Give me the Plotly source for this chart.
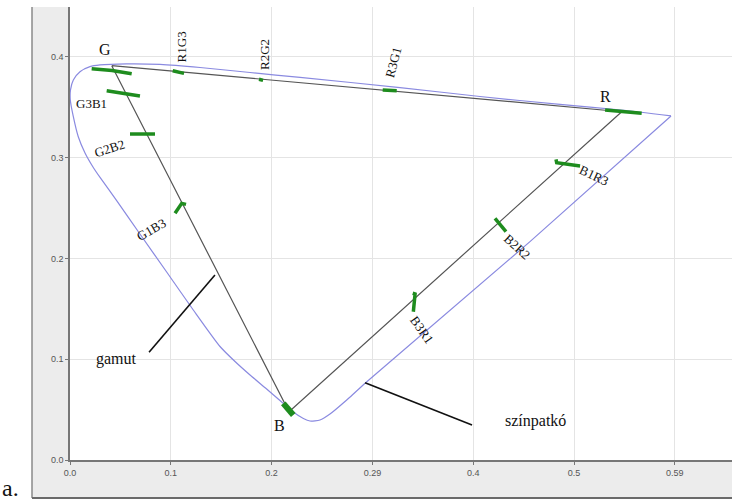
import plotly.graph_objects as go

# Spectral locus outline ("színpatkó") in u'-v' chromaticity coordinates
locus_u = [0.5962, 0.5466, 0.4861, 0.4067, 0.3274, 0.2282, 0.1786, 0.1290, 0.0893,
           0.0562, 0.0298, 0.0198, 0.0099, 0.0033, 0.0005, 0.0003, 0.0033, 0.0082,
           0.0149, 0.0228, 0.0298, 0.0463, 0.0694, 0.0959, 0.1223, 0.1488, 0.1637,
           0.1786, 0.1951, 0.2083, 0.2215, 0.2315, 0.2381, 0.2480, 0.2579, 0.2745,
           0.2927, 0.4563, 0.5962]
locus_v = [0.3413, 0.3472, 0.3527, 0.3606, 0.3695, 0.3795, 0.3844, 0.3894, 0.3924,
           0.3929, 0.3919, 0.3902, 0.3852, 0.3770, 0.3671, 0.3571, 0.3406, 0.3207,
           0.3046, 0.2907, 0.2803, 0.2574, 0.2242, 0.1865, 0.1488, 0.1126, 0.0977,
           0.0843, 0.0704, 0.0590, 0.0476, 0.0412, 0.0387, 0.0397, 0.0456, 0.0595,
           0.0761, 0.2166, 0.3413]

# Display primaries (gamut triangle)
primary_names = ["G", "R", "B"]
gamut_u = [0.0414, 0.5473, 0.2173]
gamut_v = [0.3912, 0.3455, 0.0479]

# Measured primaries and mixtures, each drawn as a short stroke
mix_names = ["G", "G3B1", "G2B2", "G1B3", "R1G3", "R2G2", "R3G1",
             "R", "B1R3", "B2R2", "B3R1", "B"]
mix_u = [[0.0215, 0.0417, 0.0612],
         [0.0364, 0.0694],
         [0.0595, 0.0843],
         [0.1042, 0.1108, 0.1151],
         [0.1019, 0.1131],
         [0.1875, 0.1915],
         [0.3102, 0.3241],
         [0.5308, 0.5671],
         [0.4821, 0.4828, 0.5060],
         [0.4216, 0.4325],
         [0.3400, 0.3423, 0.3406],
         [0.2116, 0.2215]]
mix_v = [[0.3882, 0.3865, 0.3832],
         [0.3664, 0.3611],
         [0.3234, 0.3234],
         [0.2447, 0.2546, 0.2536],
         [0.3862, 0.3836],
         [0.3777, 0.3766],
         [0.3671, 0.3664],
         [0.3472, 0.3439],
         [0.2983, 0.2949, 0.2917],
         [0.2398, 0.2265],
         [0.1654, 0.1647, 0.1471],
         [0.0562, 0.0446]]

# Axis ticks
x_tickvals = [0.0, 0.1, 0.2, 0.3, 0.4, 0.5, 0.6]
x_ticktext = ["0.0", "0.1", "0.2", "0.29", "0.4", "0.5", "0.59"]
y_tickvals = [0.0, 0.1, 0.2, 0.3, 0.4]
y_ticktext = ["0.0", "0.1", "0.2", "0.3", "0.4"]

LOCUS_COLOR = "#8a8ae0"
GAMUT_COLOR = "#555555"
MARK_COLOR = "#1e8c1e"
SERIF = "Liberation Serif, Times New Roman, serif"

fig = go.Figure()

# curved part of the locus is smoothed, the purple line is straight
n_curve = 37
fig.add_trace(go.Scatter(x=locus_u[:n_curve], y=locus_v[:n_curve], mode="lines",
                         line=dict(color=LOCUS_COLOR, width=1.2, shape="spline", smoothing=0.6),
                         hoverinfo="skip", showlegend=False))
fig.add_trace(go.Scatter(x=locus_u[n_curve - 1:], y=locus_v[n_curve - 1:], mode="lines",
                         line=dict(color=LOCUS_COLOR, width=1.2),
                         hoverinfo="skip", showlegend=False))

fig.add_trace(go.Scatter(x=gamut_u + gamut_u[:1], y=gamut_v + gamut_v[:1], mode="lines",
                         line=dict(color=GAMUT_COLOR, width=1.2),
                         hoverinfo="skip", showlegend=False))

for name, us, vs in zip(mix_names, mix_u, mix_v):
    w = 6 if name == "B" else 3.5
    fig.add_trace(go.Scatter(x=us, y=vs, mode="lines", name=name,
                             line=dict(color=MARK_COLOR, width=w),
                             hoverinfo="skip", showlegend=False))

# Pointer lines for the callouts
pointers = {
    "gamut": ([0.1438, 0.0784], [0.1835, 0.1068]),
    "színpatkó": ([0.2927, 0.3988], [0.0767, 0.0347]),
}
for us, vs in pointers.values():
    fig.add_trace(go.Scatter(x=us, y=vs, mode="lines",
                             line=dict(color="#111111", width=1.6),
                             hoverinfo="skip", showlegend=False))

# Text labels: (text, u, v, angle, size)
labels = [
    ("G", 0.0347, 0.4074, 0, 16),
    ("R", 0.5317, 0.3604, 0, 16),
    ("B", 0.2083, 0.0347, 0, 16),
    ("R1G3", 0.1108, 0.4100, -90, 13),
    ("R2G2", 0.1928, 0.4021, -90, 13),
    ("R3G1", 0.3207, 0.3943, -75, 13),
    ("G3B1", 0.0215, 0.3539, 0, 13),
    ("G2B2", 0.0390, 0.3092, -18, 13),
    ("G1B3", 0.0810, 0.2282, -30, 13),
    ("B1R3", 0.5201, 0.2827, 25, 13),
    ("B2R2", 0.4431, 0.2116, 42, 13),
    ("B3R1", 0.3489, 0.1296, 55, 13),
    ("gamut", 0.0466, 0.1002, 0, 16),
    ("színpatkó", 0.4613, 0.0387, 0, 16),
]
annotations = []
for text, u, v, ang, size in labels:
    annotations.append(dict(x=u, y=v, xref="x", yref="y", text=text, showarrow=False,
                            textangle=ang, xanchor="center", yanchor="middle",
                            font=dict(family=SERIF, size=size, color="#111111")))
annotations.append(dict(x=-0.09, y=-0.062, xref="paper", yref="paper", text="a.",
                        showarrow=False, xanchor="center", yanchor="middle",
                        font=dict(family=SERIF, size=24, color="#111111")))

# Grey panel frame around the plotting area
frame_left, frame_bottom = -0.0574, -0.0839
shapes = [
    dict(type="rect", xref="paper", yref="paper", x0=frame_left, x1=1.05,
         y0=frame_bottom, y1=1.0, fillcolor="#ececec", line=dict(width=0), layer="below"),
    dict(type="rect", xref="paper", yref="paper", x0=0, x1=1.05, y0=0, y1=1.0,
         fillcolor="white", line=dict(width=0), layer="below"),
    dict(type="line", xref="paper", yref="paper", x0=frame_left, x1=frame_left,
         y0=frame_bottom, y1=1.0, line=dict(color="#8a8a8a", width=1.5)),
    dict(type="line", xref="paper", yref="paper", x0=frame_left, x1=1.05,
         y0=frame_bottom, y1=frame_bottom, line=dict(color="#6a6a6a", width=2)),
]

axis_font = dict(family="Liberation Sans, Arial, sans-serif", size=9, color="#555555")
fig.update_layout(
    width=732, height=500,
    margin=dict(l=70, r=0, t=7, b=40),
    paper_bgcolor="white",
    plot_bgcolor="rgba(0,0,0,0)",
    showlegend=False,
    annotations=annotations,
    shapes=shapes,
    xaxis=dict(range=[0, 0.6567], tickvals=x_tickvals, ticktext=x_ticktext,
               showgrid=True, gridcolor="#e4e4e4", gridwidth=1, zeroline=False,
               showline=True, linecolor="#777777", linewidth=1.5,
               ticks="outside", ticklen=3, tickcolor="#777777", tickfont=axis_font),
    yaxis=dict(range=[0, 0.4494], tickvals=y_tickvals, ticktext=y_ticktext,
               showgrid=True, gridcolor="#e4e4e4", gridwidth=1, zeroline=False,
               showline=True, linecolor="#777777", linewidth=1.5,
               ticks="outside", ticklen=3, tickcolor="#777777", tickfont=axis_font),
)

fig.write_html("out.html")
